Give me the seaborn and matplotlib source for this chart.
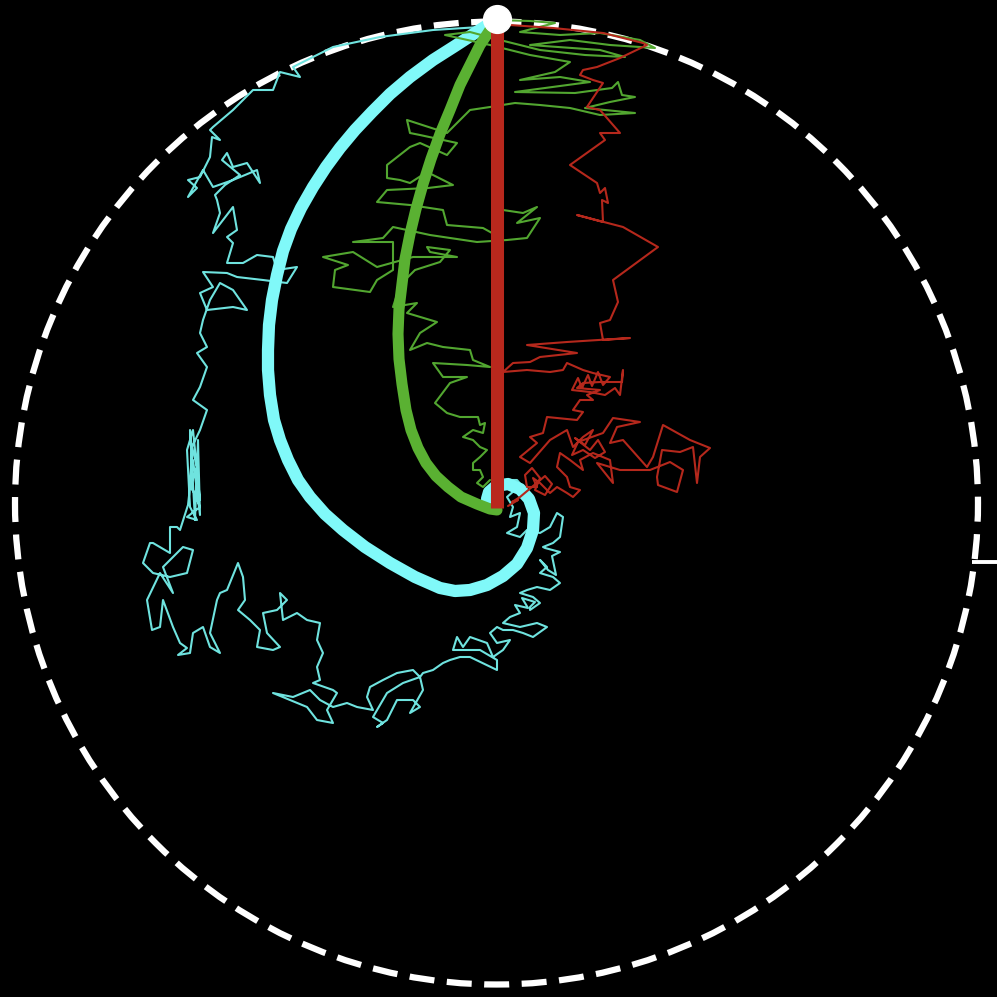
import matplotlib
matplotlib.use("Agg")
import matplotlib.pyplot as plt
import seaborn as sns
import pandas as pd
from matplotlib.patches import Circle

# ---------------- data (image units, y downward) ----------------
origin = (497, 19)
circle_center = (496.5, 503)
circle_radius = 481.5

red_walk_x = [497,510,553,603,643,647,620,597,583,580,593,603,587,600,620,600,605,570,597,600,605,608,602,603,577,623,658,613,618,610,
              600,603,630,567,527,577,540,530,513,503,527,550,563,567,583,593,610,
              603,598,592,588,582,578,572,590,605,615,620,
              623,622,600,583,577,600,587,593,580,573,583,577,
              547,543,530,537,520,530,550,567,573,583,593,
              585,575,590,598,605,595,583,572,578,
              603,613,640,617,610,623,647,
              653,663,690,710,700,697,693,680,662,657,658,677,683,670,650,620,
              597,613,610,593,580,583,570,560,557,567,570,580,573,567,557,550,540,533,537,527,
              525,532,540,535,545,552,545,
              520,512,518,508]
red_walk_y = [20,25,28,33,43,45,58,67,70,75,80,83,107,110,133,133,140,165,183,193,188,203,200,222,215,227,247,280,302,320,
              323,340,338,342,345,353,357,362,363,372,370,372,370,363,370,373,377,
              385,372,386,375,388,378,390,392,395,388,395,
              370,382,382,383,388,390,395,400,400,410,412,420,
              417,433,437,443,457,463,440,430,447,437,430,
              445,438,450,440,452,458,450,455,442,
              433,418,422,427,443,440,467,
              457,425,440,448,457,483,447,452,450,477,485,492,470,462,470,470,
              463,483,460,453,460,470,460,453,467,477,487,490,497,493,487,493,483,478,487,487,
              475,468,478,490,495,484,476,
              497,502,500,506]

green_walk_x = [497,530,555,520,560,600,640,655,610,570,530,600,625,585,540,500,470,445,490,530,570,555,520,560,590,545,515,575,612,618,
                622,635,610,585,635,600,570,540,515,490,470,450,447,407,410,420,457,447,420,410,387,387,400,410,427,453,428,387,377,410,
                443,447,483,492,503,523,537,517,540,527,507,477,430,393,383,353,393,393,377,370,333,335,348,323,353,377,413,457,430,427,
                450,440,415,400,393,417,407,437,420,410,427,443,470,473,490,467,433,443,467,450,435,447,460,478,480,485,483,473,463,473,
                480,487,480,473,473,480,483,477,483,490]
green_walk_y = [20,21,23,32,35,33,40,48,45,40,45,50,57,55,50,40,32,35,45,55,62,72,80,77,82,88,92,93,88,82,
                95,97,102,108,113,115,108,105,103,107,110,130,133,120,133,135,143,155,143,147,165,178,180,183,172,185,188,190,202,205,
                210,225,228,233,210,213,207,223,218,238,240,242,235,227,238,242,242,270,280,292,287,270,265,257,252,267,257,257,252,247,
                250,262,270,285,307,303,313,322,333,350,343,347,350,360,367,365,363,377,377,383,403,413,417,417,425,423,433,430,437,440,
                447,450,457,463,470,470,477,483,487,480]

cyan_walk_x = [497,480,433,380,333,293,300,280,273,253,233,213,210,220,212,210,200,188,197,188,203,213,233,257,260,247,233,227,222,240,
               225,215,217,220,213,233,237,227,233,227,243,257,273,277,297,287,263,237,227,203,213,200,207,233,247,233,220,210,203,200,
               207,197,207,200,193,207,200,192,197,190,200,193,187,190,197,187,200,190,192,
               190,195,198,200,193,188,
               180,177,170,170,153,150,143,153,170,187,193,
               183,163,173,160,147,152,160,163,173,180,187,178,190,193,203,210,220,210,217,220,227,238,243,245,238,250,260,257,273,280,
               267,263,277,287,280,283,297,307,320,317,323,317,320,313,333,337,327,333,317,307,290,273,293,310,320,333,347,357,373,367,
               370,383,397,413,420,403,387,373,383,377,387,397,413,420,410,423,
               420,423,433,443,450,460,470,497,497,480,453,457,463,470,487,493,503,510,497,490,497,503,513,523,533,547,537,520,503,510,
               520,515,528,522,535,530,
               530,540,533,520,527,537,550,560,553,540,547,540,
               548,556,552,560,545,
               543,553,560,563,557,550,540,527,520,507,517,520,510,513,507,515,523,
               517,503,493,487,490]
cyan_walk_y = [20,27,30,37,47,67,77,72,90,90,110,127,130,140,137,157,177,180,188,197,170,187,180,170,183,163,167,153,160,175,
               185,195,200,213,233,207,230,237,243,263,263,255,257,270,267,283,280,277,273,272,287,293,310,307,310,290,283,300,320,333,
               347,353,367,387,400,410,430,447,467,487,500,430,450,507,520,517,507,483,450,
               430,520,440,515,460,505,
               530,527,527,553,543,543,563,573,577,573,550,
               547,567,593,573,600,630,627,600,627,643,648,655,653,633,627,647,653,633,600,593,590,563,577,600,610,620,630,647,650,647,
               633,613,610,600,593,620,613,620,623,640,653,667,680,683,690,693,710,723,720,707,700,693,697,690,700,707,703,707,710,697,
               687,680,673,670,677,683,693,717,723,727,720,700,700,707,713,690,
               677,673,670,663,660,657,657,670,660,650,650,637,647,637,643,657,650,640,643,633,627,630,630,633,637,627,623,627,623,617,
               613,605,608,598,602,607,
               610,603,597,593,590,587,590,583,577,573,567,560,
               570,575,556,552,548,
               547,543,537,517,513,527,533,530,537,533,527,513,517,507,497,490,487,
               480,480,483,490,497]

cyan_curve_x = [497,475,455,433,410,390,372,355,340,326,313,301,291,283,277,272,269,268,268,270,274,280,288,298,310,325,343,365,390,415,
                440,455,470,487,503,517,527,533,534,529,520,508,496,489,487]
cyan_curve_y = [19,33,46,60,77,94,112,130,148,167,187,208,229,251,275,300,325,350,370,395,420,440,460,480,497,514,530,547,563,577,
                588,591,590,585,576,564,548,530,513,499,489,484,486,492,499]

green_curve_x = [497,488,480,470,460,450,440,431,423,416,410,405,402,399,398,399,402,406,411,418,426,436,448,461,477,490,497]
green_curve_y = [19,33,45,65,85,110,134,159,184,209,234,259,284,309,334,359,384,410,430,448,463,476,487,497,504,509,510]

red_bar_x = [497,497]
red_bar_y = [19,508]

tick_x = [972,997]
tick_y = [562,562]

# ---------------- drawing ----------------
sns.set_style("dark")
fig = plt.figure(figsize=(9.97, 9.97), dpi=100, facecolor="black")
ax = fig.add_axes([0, 0, 1, 1])
ax.set_facecolor("black")

ax.add_patch(Circle(circle_center, circle_radius, fill=False, ec="white", lw=4.5,
                    linestyle=(0, (4.0, 2.0)), zorder=1))

def path(x, y, color, lw, z, cap="round"):
    df = pd.DataFrame({"x": x, "y": y})
    sns.lineplot(data=df, x="x", y="y", sort=False, estimator=None, color=color,
                 lw=lw, ax=ax, zorder=z, solid_capstyle=cap, solid_joinstyle="round")

path(cyan_walk_x, cyan_walk_y, "#6fe3df", 1.5, 2)
path(cyan_curve_x, cyan_curve_y, "#80f9f9", 8.8, 3)
path(green_walk_x, green_walk_y, "#52a630", 1.5, 4)
path(green_curve_x, green_curve_y, "#5ab132", 8.0, 5)
path(red_walk_x, red_walk_y, "#b5281c", 1.5, 6)
path(red_bar_x, red_bar_y, "#b9281d", 9.4, 7, cap="butt")
path(tick_x, tick_y, "white", 2.8, 7, cap="butt")
ax.plot([origin[0]], [origin[1]], "o", color="white", ms=20, zorder=9)

ax.set_xlim(0, 997)
ax.set_ylim(997, 0)
ax.axis("off")
fig.savefig("out.png", dpi=100, facecolor="black")
